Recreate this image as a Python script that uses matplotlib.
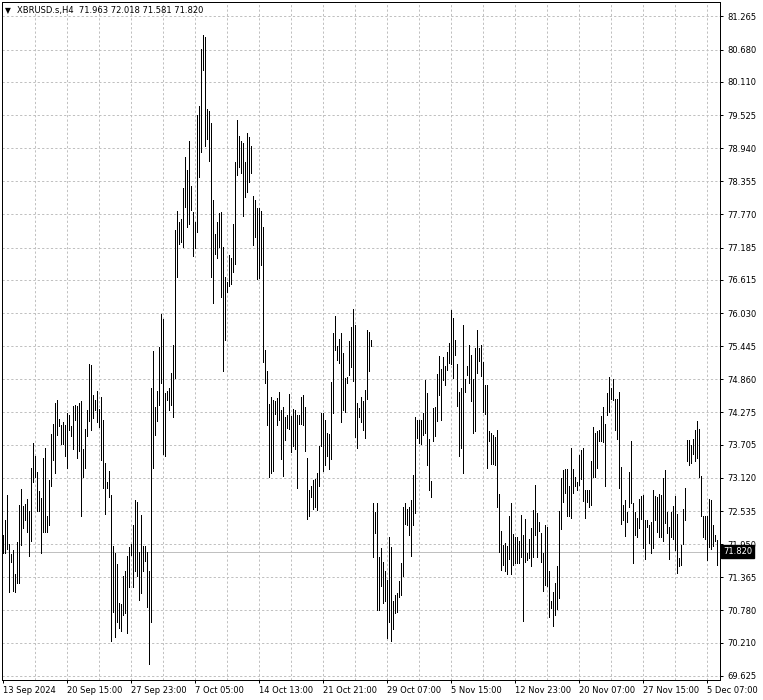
import matplotlib
matplotlib.use("Agg")
import matplotlib.pyplot as plt
import matplotlib.transforms as mtransforms
import numpy as np

# ---------------- data (H4 bars, high / low) ----------------
high = [
    72.11, 72.38, 72.81, 71.95, 71.78, 71.85, 71.43, 71.98, 72.64, 72.93, 72.63, 72.66, 72.75, 72.53, 73.30,
    73.73, 73.50, 73.23, 72.89, 72.76, 73.48, 73.64, 72.44, 73.08, 73.90, 74.07, 74.44, 74.50, 74.16, 74.05,
    74.11, 74.05, 74.26, 74.23, 74.03, 74.39, 74.41, 74.39, 74.45, 74.48, 73.63, 73.98, 74.32, 75.13, 75.11,
    74.58, 74.50, 74.65, 74.33, 74.54, 74.14, 73.38, 73.04, 73.25, 72.81, 71.92, 71.79, 71.60, 70.91, 70.90,
    71.38, 71.48, 71.74, 71.90, 71.95, 72.29, 72.73, 72.70, 71.82, 72.47, 71.92, 71.91, 71.82, 71.47, 74.70,
    75.36, 74.37, 74.66, 75.43, 76.01, 75.92, 74.61, 74.66, 74.70, 74.97, 75.47, 77.50, 77.83, 77.64, 77.69,
    78.23, 78.79, 78.56, 79.07, 78.28, 77.82, 77.63, 79.53, 79.68, 80.69, 80.94, 80.91, 79.63, 79.60, 79.38,
    78.03, 77.43, 77.64, 77.80, 77.82, 77.20, 76.67, 76.58, 77.06, 77.01, 77.60, 78.70, 79.43, 79.16, 79.07,
    79.04, 78.70, 79.21, 79.14, 78.97, 78.10, 78.03, 77.89, 77.88, 77.83, 77.54, 75.37, 75.01, 74.43, 74.55,
    74.50, 74.48, 74.53, 74.64, 74.32, 74.38, 74.20, 74.23, 74.60, 74.21, 74.34, 74.32, 74.23, 74.23, 74.54,
    74.58, 74.37, 73.47, 72.90, 72.98, 73.08, 73.10, 73.20, 73.68, 74.26, 74.26, 74.15, 73.92, 73.89, 74.82,
    75.67, 75.97, 75.44, 75.58, 75.67, 75.32, 74.88, 74.90, 75.54, 75.78, 76.10, 75.82, 74.44, 74.35, 74.54,
    74.47, 74.67, 75.73, 75.70, 75.55, 72.67, 72.51, 72.68, 71.72, 71.88, 71.63, 71.47, 71.32, 72.07, 71.90,
    70.94, 71.05, 71.08, 71.30, 71.61, 72.60, 72.67, 72.57, 72.61, 72.73, 73.17, 74.20, 74.15, 74.14, 74.14,
    74.27, 74.84, 74.61, 73.80, 73.07, 74.35, 74.37, 74.95, 75.27, 75.05, 75.25, 75.10, 75.35, 75.50, 76.08,
    75.94, 75.55, 75.13, 74.64, 74.70, 75.82, 74.86, 75.10, 75.47, 75.29, 74.86, 75.41, 75.73, 75.41, 75.47,
    75.17, 74.76, 74.76, 73.95, 73.92, 73.88, 73.84, 73.97, 72.84, 72.18, 71.94, 71.97, 71.92, 72.45, 72.68,
    72.13, 72.07, 72.07, 72.01, 72.47, 72.11, 72.40, 71.79, 72.04, 72.23, 72.55, 73.00, 72.50, 72.35, 72.14,
    71.79, 72.29, 72.25, 71.47, 70.95, 71.10, 71.27, 71.57, 72.54, 73.11, 73.26, 73.27, 73.27, 72.97, 73.64,
    73.28, 73.13, 73.05, 73.52, 73.62, 73.64, 72.91, 72.91, 72.91, 73.41, 74.01, 73.92, 73.95, 73.97, 74.21,
    74.38, 74.08, 74.62, 74.90, 74.70, 74.86, 74.51, 74.51, 74.64, 73.32, 72.64, 72.73, 72.52, 73.23, 73.78,
    72.68, 72.52, 72.41, 72.74, 72.80, 72.82, 72.37, 72.37, 72.29, 72.35, 72.91, 72.80, 72.79, 72.84,
    72.82, 73.11, 73.26, 72.51, 72.26, 72.51, 72.62, 72.80, 72.48, 71.70, 71.94, 72.57, 72.94, 73.79, 73.79,
    73.70, 73.80, 73.97, 74.13, 73.98, 73.15, 72.45, 72.44, 72.44, 72.74, 72.73, 72.29, 72.11, 72.02,
]
low = [
    71.80, 71.79, 71.87, 71.10, 71.63, 71.13, 71.10, 71.26, 71.26, 71.94, 72.23, 72.38, 72.17, 71.75, 72.01,
    73.04, 73.13, 72.53, 72.53, 71.79, 72.17, 72.16, 72.17, 72.28, 72.97, 73.43, 73.21, 73.87, 74.04, 73.72,
    73.72, 73.50, 73.29, 73.97, 73.86, 73.63, 74.14, 73.48, 73.60, 72.45, 73.14, 73.29, 73.86, 74.13, 73.97,
    74.17, 74.32, 74.11, 74.01, 73.43, 72.94, 72.48, 72.95, 72.79, 70.25, 70.75, 70.32, 70.57, 70.47, 70.41,
    70.70, 70.73, 70.39, 71.20, 71.76, 71.20, 71.48, 71.39, 70.97, 71.08, 71.47, 71.66, 70.85, 69.84, 70.57,
    73.29, 73.88, 74.13, 74.41, 74.79, 73.54, 73.50, 74.50, 74.32, 74.41, 74.20, 74.88, 76.66, 77.25, 77.28,
    77.20, 77.90, 77.54, 77.61, 77.84, 77.03, 77.18, 77.46, 78.43, 78.87, 80.32, 78.97, 79.10, 78.71, 76.66,
    76.20, 77.07, 77.01, 77.20, 76.32, 75.00, 75.55, 76.40, 76.51, 76.54, 76.76, 76.90, 78.46, 78.60, 78.51,
    77.74, 78.07, 78.17, 78.35, 78.51, 77.23, 77.38, 76.63, 76.65, 76.88, 75.17, 74.80, 74.05, 73.14, 73.21,
    73.25, 74.25, 74.05, 74.14, 73.45, 73.16, 73.79, 74.00, 73.98, 73.57, 73.69, 73.63, 72.95, 74.08, 74.07,
    74.05, 73.60, 72.39, 72.45, 72.79, 72.58, 72.60, 72.55, 72.97, 73.69, 73.25, 73.35, 73.51, 73.27, 73.45,
    74.27, 75.38, 75.20, 75.14, 74.10, 74.31, 74.29, 74.79, 74.94, 75.08, 74.83, 73.84, 73.64, 74.20, 74.11,
    73.97, 73.82, 74.51, 75.01, 75.44, 71.73, 72.14, 70.79, 70.79, 71.21, 70.92, 70.94, 70.29, 70.58, 70.25,
    70.45, 70.73, 70.76, 71.02, 71.05, 71.38, 72.31, 72.29, 72.11, 71.74, 72.29, 72.50, 73.82, 73.73, 73.72,
    73.88, 73.92, 73.34, 72.90, 72.79, 73.78, 73.86, 74.13, 74.58, 74.15, 74.84, 74.76, 75.03, 75.14, 75.13,
    74.88, 75.29, 74.39, 73.50, 73.65, 73.20, 74.64, 74.94, 74.79, 74.47, 73.91, 73.95, 74.98, 75.19, 74.91,
    74.29, 74.25, 73.29, 73.78, 73.37, 73.36, 73.35, 72.61, 71.82, 71.50, 71.58, 71.48, 71.42, 71.68, 71.42,
    71.58, 71.61, 71.62, 71.62, 71.73, 70.60, 71.64, 71.67, 71.70, 71.57, 71.73, 72.11, 71.73, 72.19, 71.64,
    71.13, 71.23, 71.21, 70.66, 70.82, 70.50, 70.70, 70.80, 71.00, 72.21, 72.70, 72.85, 72.44, 72.45, 72.41,
    72.85, 72.98, 72.90, 73.00, 73.10, 72.72, 72.42, 72.70, 72.60, 72.64, 73.14, 73.13, 73.30, 73.78, 73.78,
    73.76, 72.98, 74.23, 74.29, 74.52, 74.50, 73.97, 73.80, 72.94, 72.31, 72.38, 72.10, 72.35, 72.61, 72.68,
    71.61, 72.11, 72.08, 72.23, 72.39, 71.88, 71.68, 72.25, 71.97, 71.80, 71.88, 72.38, 72.17, 72.08,
    72.08, 72.01, 72.32, 72.15, 71.69, 72.08, 72.05, 71.85, 71.45, 71.57, 71.58, 71.95, 72.38, 73.41, 73.35,
    73.38, 73.55, 73.41, 73.47, 73.14, 72.44, 72.08, 72.05, 71.67, 71.90, 71.86, 71.92, 72.00, 71.58,
]

price_ticks = [81.265, 80.680, 80.110, 79.525, 78.940, 78.355, 77.770, 77.185, 76.615, 76.030, 75.445,
               74.860, 74.275, 73.705, 73.120, 72.535, 71.950, 71.365, 70.780, 70.210, 69.625]
date_labels = ["13 Sep 2024", "20 Sep 15:00", "27 Sep 23:00", "7 Oct 05:00", "14 Oct 13:00",
               "21 Oct 21:00", "29 Oct 07:00", "5 Nov 15:00", "12 Nov 23:00", "20 Nov 07:00",
               "27 Nov 15:00", "5 Dec 07:00"]
symbol = "XBRUSD.s,H4"
last_ohlc = [71.963, 72.018, 71.581, 71.820]
last_price = 71.820
label_every = 32
grid_every = 16

# ---------------- figure ----------------
W, H = 763, 700
plt.rcParams['font.family'] = ['DejaVu Sans']
fig = plt.figure(figsize=(W / 100, H / 100), dpi=100)
fig.patch.set_facecolor('white')
ax = fig.add_axes([2 / W, 20 / H, 718 / W, 678 / H])
ax.set_facecolor('white')

n = len(high)
x = np.arange(n)
ax.set_xlim(-0.5, n + 0.5)
ax.set_ylim(69.553, 81.520)

grid_kw = dict(color='#c0c0c0', linewidth=0.72, linestyle=(0, (2.2, 2.2)), zorder=0)
for p in price_ticks:
    ax.axhline(p, **grid_kw)
for gx in range(grid_every, n, grid_every):
    ax.axvline(gx, **grid_kw)

ax.axhline(last_price, color='#c0c0c0', linewidth=0.72, zorder=1)

ax.vlines(x, low, high, colors='black', linewidth=0.6, antialiased=False, zorder=3)

for s in ax.spines.values():
    s.set_color('black')
    s.set_linewidth(0.72)

ax.yaxis.tick_right()
ax.set_yticks(price_ticks)
ax.set_yticklabels([f"{p:.3f}" for p in price_ticks])
ax.tick_params(axis='y', direction='out', length=2.5, width=0.72, labelsize=6, pad=3, colors='black')

xt = list(range(0, n, label_every))[:len(date_labels)]
ax.set_xticks(xt)
ax.set_xticklabels(date_labels)
for lbl in ax.get_xticklabels():
    lbl.set_horizontalalignment('left')
ax.tick_params(axis='x', direction='out', length=2.5, width=0.72, labelsize=6, pad=1.5, colors='black')

# current price tag
tr = mtransforms.blended_transform_factory(ax.transAxes, ax.transData)
ax.text(1.004, last_price, f"{last_price:.3f}", transform=tr, ha='left', va='center',
        fontsize=6, color='white', zorder=10, clip_on=False,
        bbox=dict(boxstyle='square,pad=0.2', facecolor='black', edgecolor='black'))

# header
ax.text(0.004, 0.988, "\u25BC", transform=ax.transAxes, ha='left', va='center', fontsize=5.5, color='black')
ax.text(0.021, 0.988, f"{symbol}  " + " ".join(f"{v:.3f}" for v in last_ohlc),
        transform=ax.transAxes, ha='left', va='center', fontsize=6, color='black')

fig.savefig("out.png", dpi=100, facecolor='white')
